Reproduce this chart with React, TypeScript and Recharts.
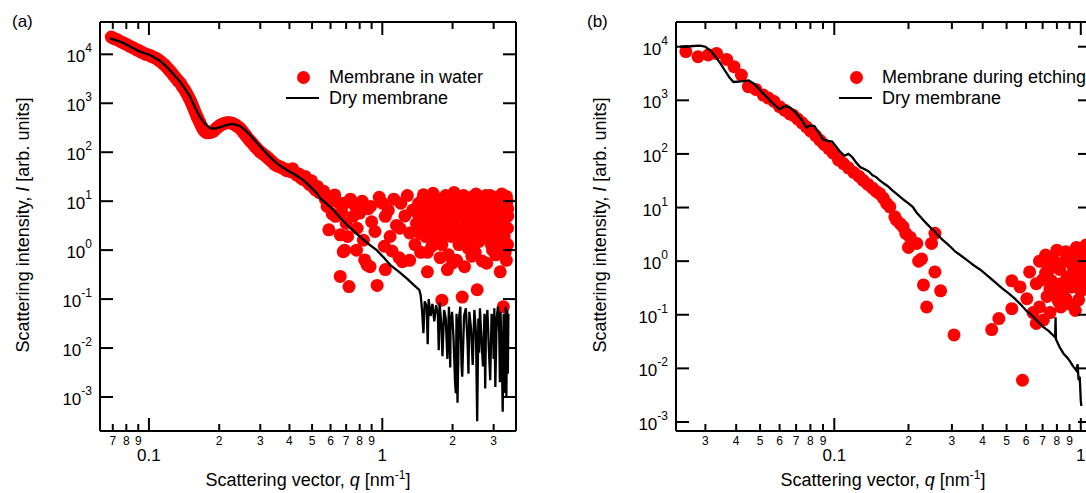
import { ComposedChart, XAxis, YAxis, Scatter, Line } from "recharts";

const FONT = "'Liberation Sans', Arial, sans-serif";

// panel (a): membrane in water, points along the curve (q in nm^-1, intensity)
const waterCurveA: [number, number][] = [
  [0.069, 22500], [0.071, 21000], [0.073, 20000], [0.075, 18500], [0.077, 17500],
  [0.079, 16500], [0.081, 15500], [0.083, 14500], [0.085, 13800], [0.087, 13000],
  [0.089, 12200], [0.091, 11800], [0.093, 11000], [0.095, 10500], [0.097, 10000],
  [0.099, 9800], [0.101, 9500], [0.103, 9000], [0.105, 8600], [0.107, 8300],
  [0.109, 7900], [0.111, 7400], [0.113, 6900], [0.115, 6400], [0.117, 6000],
  [0.119, 5500], [0.121, 5000], [0.123, 4600], [0.125, 4200], [0.127, 3800],
  [0.129, 3500], [0.131, 3200], [0.133, 2900], [0.135, 2700], [0.137, 2500],
  [0.139, 2200], [0.141, 2000], [0.143, 1800], [0.145, 1600], [0.147, 1400],
  [0.149, 1250], [0.151, 1100], [0.153, 950], [0.155, 820], [0.157, 700],
  [0.159, 600], [0.161, 520], [0.163, 460], [0.165, 410], [0.167, 360],
  [0.169, 320], [0.171, 290], [0.173, 270], [0.175, 260], [0.177, 250],
  [0.18, 250], [0.183, 255], [0.186, 260], [0.189, 270], [0.192, 290],
  [0.195, 310], [0.198, 330], [0.201, 350], [0.205, 370], [0.209, 385],
  [0.213, 395], [0.217, 400], [0.221, 400], [0.225, 395], [0.229, 385],
  [0.233, 370], [0.237, 350], [0.241, 330], [0.245, 310], [0.249, 285],
  [0.253, 260], [0.257, 235], [0.261, 215], [0.265, 195], [0.27, 175],
  [0.275, 160], [0.28, 145], [0.285, 130], [0.29, 120], [0.295, 110],
  [0.3, 100], [0.306, 95], [0.312, 88], [0.318, 82], [0.324, 76],
  [0.33, 70], [0.337, 64], [0.344, 58], [0.351, 54], [0.358, 52],
  [0.365, 50], [0.373, 48], [0.381, 45], [0.389, 42], [0.397, 44],
  [0.405, 40], [0.413, 46], [0.421, 38], [0.43, 34], [0.439, 36],
  [0.448, 30], [0.457, 28], [0.467, 32], [0.477, 25], [0.487, 22],
  [0.497, 26], [0.507, 19], [0.517, 17], [0.527, 20], [0.537, 15],
];

// panel (a): membrane in water, the noisy cloud at high q
const waterCloudA: [number, number][] = [
  [0.56, 16], [0.57, 11], [0.58, 7.8], [0.59, 2.6], [0.6, 12], [0.61, 5.5],
  [0.625, 13.4], [0.63, 4.9], [0.645, 9.5], [0.66, 2.05], [0.66, 0.29], [0.67, 6],
  [0.68, 0.93], [0.69, 9.1], [0.69, 1.0], [0.7, 3.5], [0.71, 1.9], [0.72, 0.18],
  [0.73, 11], [0.75, 4.9], [0.76, 8.4], [0.775, 1.0], [0.78, 2.8], [0.8, 5.7],
  [0.82, 10], [0.83, 1.6], [0.84, 0.63], [0.86, 0.5], [0.87, 7], [0.886, 0.46],
  [0.89, 7.8], [0.9, 3.8], [0.93, 2.4], [0.95, 0.19], [0.97, 12], [1.0, 9.1],
  [1.02, 1.2], [1.03, 4.9], [1.03, 0.4], [1.06, 6.5], [1.08, 1.9], [1.1, 0.96],
  [1.12, 11], [1.15, 3.2], [1.18, 0.7], [1.19, 2.8], [1.2, 9.1], [1.22, 0.58],
  [1.25, 5], [1.28, 13], [1.31, 2.25], [1.31, 0.62], [1.35, 6.6], [1.38, 1.3],
  [1.4, 3.5], [1.43, 9], [1.46, 0.9], [1.5, 13.5], [1.52, 5.5], [1.53, 7.8],
  [1.53, 1.9], [1.56, 0.9], [1.56, 0.36], [1.57, 4.1], [1.6, 2.8], [1.62, 10],
  [1.65, 14.5], [1.67, 1.4], [1.7, 6], [1.72, 3], [1.75, 11], [1.77, 0.7],
  [1.8, 7.8], [1.8, 0.095], [1.82, 2], [1.85, 3.5], [1.87, 13], [1.9, 0.4],
  [1.92, 0.8], [1.95, 10], [1.98, 1.9], [2.0, 5.5], [2.03, 15], [2.05, 3],
  [2.08, 0.62], [2.1, 8], [2.13, 1.3], [2.15, 10.7], [2.17, 1.6], [2.2, 4.9],
  [2.2, 0.11], [2.23, 13], [2.25, 0.46], [2.28, 2.4], [2.3, 7], [2.33, 1.1],
  [2.36, 11], [2.4, 4], [2.42, 0.75], [2.45, 7.8], [2.48, 2.6], [2.5, 0.9],
  [2.52, 14], [2.55, 0.155], [2.57, 5.5], [2.6, 1.5], [2.62, 10], [2.65, 3.5],
  [2.68, 0.6], [2.7, 10.7], [2.72, 6], [2.75, 2.2], [2.78, 13], [2.8, 1.9],
  [2.8, 0.54], [2.84, 4.5], [2.87, 9], [2.9, 6.6], [2.93, 1.3], [2.97, 1.0],
  [3.0, 12], [3.03, 3.8], [3.06, 0.8], [3.1, 3.0], [3.13, 7], [3.18, 9.1],
  [3.2, 0.36], [3.22, 2], [3.25, 14], [3.28, 5], [3.3, 0.07], [3.33, 1.9],
  [3.33, 12], [3.36, 0.9], [3.4, 4.9], [3.4, 0.62], [3.42, 10], [3.44, 2.8],
  [3.45, 7],
  [1.42, 5.5], [1.45, 2.2], [1.48, 10.5], [1.55, 3], [1.58, 12], [1.6, 6.5],
  [1.63, 1.2], [1.68, 8.5], [1.7, 2.2], [1.73, 4.8], [1.78, 9.5], [1.8, 1.3],
  [1.83, 5.5], [1.88, 2.6], [1.9, 7], [1.93, 4.2], [1.97, 12.5], [2.0, 0.55],
  [2.04, 8.5], [2.07, 2.1], [2.12, 5], [2.18, 7.5], [2.22, 1.9], [2.26, 9.5],
  [2.3, 3.5], [2.34, 5.8], [2.38, 1.6], [2.41, 12], [2.46, 4.5], [2.5, 9.5],
  [2.54, 3], [2.58, 7.5], [2.63, 2.2], [2.67, 12], [2.72, 4], [2.76, 8.5],
  [2.82, 11], [2.86, 2.6], [2.9, 13], [2.95, 4.2], [3.0, 7], [3.04, 1.8],
  [3.08, 10.5], [3.12, 4.8], [3.16, 1.2], [3.2, 6.2], [3.24, 3.3], [3.28, 9.5],
  [3.32, 5.5], [3.37, 7.5], [3.4, 12.5], [3.44, 1.3], [3.45, 5],
];

// panel (a): dry membrane
const dryA: [number, number][] = [
  [0.068, 21200], [0.072, 19500], [0.077, 17300], [0.081, 15400], [0.0857, 13300],
  [0.091, 11500], [0.096, 10500], [0.101, 9700], [0.106, 8500], [0.112, 7200],
  [0.119, 5600], [0.127, 4000], [0.136, 2760], [0.143, 1950], [0.15, 1365],
  [0.157, 850], [0.165, 533], [0.174, 380], [0.183, 309], [0.192, 305],
  [0.201, 323], [0.213, 355], [0.226, 378], [0.235, 365], [0.245, 344],
  [0.257, 290], [0.271, 226], [0.289, 160], [0.309, 111], [0.33, 80],
  [0.352, 60], [0.376, 48], [0.402, 40], [0.43, 33], [0.458, 27],
  [0.49, 20], [0.524, 14.6], [0.541, 11.5], [0.578, 8.8], [0.617, 6.6],
  [0.66, 4.6], [0.704, 3.3], [0.75, 2.5], [0.8, 1.9], [0.87, 1.35],
  [0.946, 1.0], [1.01, 0.72], [1.08, 0.5], [1.18, 0.36], [1.29, 0.25],
  [1.37, 0.19], [1.44, 0.155],
  [1.46, 0.12], [1.48, 0.06], [1.5, 0.02], [1.52, 0.09], [1.55, 0.07], [1.565, 0.012],
  [1.58, 0.1], [1.61, 0.045], [1.64, 0.08], [1.67, 0.035], [1.7, 0.075], [1.73, 0.05],
  [1.745, 0.009], [1.76, 0.085], [1.79, 0.03], [1.81, 0.0068], [1.84, 0.06], [1.87, 0.04],
  [1.9, 0.006], [1.93, 0.07], [1.955, 0.004], [1.96, 0.03], [1.99, 0.055], [2.02, 0.015],
  [2.05, 0.002], [2.065, 0.0012], [2.08, 0.05], [2.1, 0.00076], [2.13, 0.04], [2.16, 0.07],
  [2.185, 0.0045], [2.2, 0.0026], [2.24, 0.045], [2.28, 0.065], [2.32, 0.012], [2.34, 0.003],
  [2.36, 0.055], [2.4, 0.025], [2.44, 0.0045], [2.48, 0.06], [2.52, 0.02], [2.55, 0.00032],
  [2.58, 0.04], [2.6, 0.008], [2.62, 0.065], [2.66, 0.015], [2.7, 0.0042], [2.74, 0.05],
  [2.76, 0.0015], [2.78, 0.025], [2.82, 0.06], [2.86, 0.01], [2.9, 0.0022], [2.94, 0.05],
  [2.98, 0.03], [3.0, 0.006], [3.02, 0.065], [3.05, 0.0016], [3.09, 0.04], [3.13, 0.07],
  [3.17, 0.02], [3.19, 0.002], [3.21, 0.055], [3.25, 0.008], [3.28, 0.0005], [3.31, 0.05],
  [3.35, 0.03], [3.36, 0.0012], [3.38, 0.07], [3.4, 0.001], [3.43, 0.06], [3.45, 0.003],
  [3.47, 0.05],
];

// panel (b): membrane during etching
const etchB: [number, number][] = [
  [0.025, 8100], [0.028, 6500], [0.0308, 7000], [0.0333, 7500], [0.0366, 5800],
  [0.0392, 4240], [0.042, 2960], [0.0448, 1800], [0.048, 1600], [0.0515, 1250],
  [0.054, 1100], [0.057, 950], [0.06, 760], [0.063, 650], [0.066, 560],
  [0.068, 530], [0.071, 450], [0.074, 380], [0.077, 320], [0.08, 270],
  [0.084, 220], [0.0875, 180], [0.091, 150], [0.095, 125], [0.099, 103],
  [0.104, 77], [0.109, 66], [0.114, 55], [0.12, 45], [0.126, 38],
  [0.131, 32], [0.137, 27], [0.143, 23], [0.148, 20], [0.153, 18],
  [0.158, 15], [0.163, 12], [0.168, 10.3], [0.176, 6.7], [0.179, 5.8],
  [0.185, 5], [0.19, 4.4], [0.195, 3.3], [0.203, 2.8], [0.2, 1.8],
  [0.216, 2.14], [0.22, 1.0], [0.226, 1.1], [0.23, 0.36], [0.237, 0.14],
  [0.248, 2.14], [0.256, 3.3], [0.256, 0.63], [0.27, 0.28], [0.306, 0.042],
  [0.435, 0.053], [0.465, 0.085], [0.525, 0.13], [0.525, 0.43], [0.567, 0.33],
  [0.58, 0.006], [0.604, 0.2], [0.62, 0.63], [0.64, 0.11], [0.66, 0.38],
  [0.66, 0.069], [0.68, 0.14], [0.68, 1.0], [0.7, 1.0], [0.705, 0.08],
  [0.73, 0.22], [0.74, 0.68], [0.75, 0.11], [0.76, 0.43], [0.79, 0.25],
  [0.8, 1.6], [0.83, 0.14], [0.83, 0.38], [0.86, 1.0], [0.88, 0.51],
  [0.92, 0.33], [0.93, 0.78], [0.96, 1.8], [0.96, 0.58], [0.98, 0.19],
  [1.0, 0.28], [0.72, 1.3], [0.78, 0.9], [0.9, 1.3], [1.02, 1.2],
  [1.03, 0.5], [1.05, 2.0], [0.87, 0.2], [0.95, 0.12], [1.04, 0.9],
  [0.7, 0.45], [0.72, 0.6], [0.75, 0.3], [0.77, 1.1], [0.82, 0.7],
  [0.85, 0.28], [0.87, 1.5], [0.9, 0.45], [0.94, 1.1], [0.97, 0.4],
  [1.0, 1.0], [1.02, 0.65], [1.04, 0.35], [0.99, 1.4], [0.81, 0.18], [0.89, 0.16],
];

// panel (b): dry membrane
const dryB: [number, number][] = [
  [0.0237, 10000], [0.026, 10200], [0.0285, 10500], [0.03, 10000], [0.0315, 8500],
  [0.033, 6500], [0.0345, 4900], [0.036, 3600], [0.0375, 2700], [0.039, 2200],
  [0.042, 2250], [0.045, 2350], [0.0475, 2000], [0.05, 1550], [0.053, 1170],
  [0.056, 900], [0.06, 680], [0.063, 780], [0.066, 740], [0.07, 580],
  [0.074, 420], [0.077, 310], [0.08, 340], [0.083, 330], [0.087, 240],
  [0.09, 185], [0.094, 175], [0.098, 170], [0.102, 135], [0.106, 108],
  [0.11, 92], [0.114, 100], [0.118, 88], [0.123, 68], [0.128, 56],
  [0.133, 52], [0.138, 47], [0.143, 40], [0.148, 37], [0.153, 32],
  [0.159, 28], [0.165, 25], [0.172, 21], [0.179, 18], [0.186, 15.5],
  [0.193, 13.5], [0.2, 12], [0.208, 10.3], [0.216, 8], [0.223, 6.8],
  [0.23, 5.8], [0.238, 4.9], [0.246, 4.2], [0.255, 3.6], [0.264, 3.0],
  [0.275, 2.5], [0.286, 2.14], [0.298, 1.8], [0.31, 1.5], [0.324, 1.3],
  [0.34, 1.1], [0.355, 0.95], [0.37, 0.82], [0.39, 0.7], [0.41, 0.58],
  [0.432, 0.47], [0.456, 0.38], [0.48, 0.31], [0.51, 0.25], [0.54, 0.2],
  [0.567, 0.16], [0.6, 0.12], [0.63, 0.1], [0.66, 0.08], [0.705, 0.059],
  [0.74, 0.05], [0.77, 0.042], [0.787, 0.038], [0.79, 0.09], [0.793, 0.035],
  [0.82, 0.025], [0.85, 0.019], [0.88, 0.016], [0.9, 0.014], [0.93, 0.011],
  [0.96, 0.0091], [0.97, 0.012], [0.98, 0.006], [0.99, 0.007], [1.0, 0.0025],
  [1.005, 0.002],
];

const yTicks = [1e-3, 1e-2, 1e-1, 1, 10, 100, 1000, 1e4];
const xTicksA = [0.07, 0.08, 0.09, 0.1, 0.2, 0.3, 0.4, 0.5, 0.6, 0.7, 0.8, 0.9, 1, 2, 3];
const xTicksB = [0.03, 0.04, 0.05, 0.06, 0.07, 0.08, 0.09, 0.1, 0.2, 0.3, 0.4, 0.5, 0.6, 0.7, 0.8, 0.9, 1];

const toPts = (arr: [number, number][]) => arr.map(([q, I]) => ({ q, I }));

const isDecade = (v: number) => {
  const l = Math.log10(v);
  return Math.abs(l - Math.round(l)) < 1e-6;
};
const digit = (v: number) => Math.round(v / Math.pow(10, Math.floor(Math.log10(v) + 1e-9)));

function BottomTick(props: any) {
  const { x, y, payload } = props;
  const v = payload.value as number;
  const major = isDecade(v);
  return (
    <g>
      <line x1={x} x2={x} y1={y} y2={y - (major ? 13 : 7)} stroke="#000" strokeWidth={2} />
      {major ? (
        <text x={x} y={y + 30} textAnchor="middle" fontSize={17} fontFamily={FONT} fill="#000">
          {String(v)}
        </text>
      ) : (
        <text x={x} y={y + 14} textAnchor="middle" fontSize={12} fontFamily={FONT} fill="#000">
          {digit(v)}
        </text>
      )}
    </g>
  );
}

function TopTick(props: any) {
  const { x, y, payload } = props;
  const major = isDecade(payload.value);
  return <line x1={x} x2={x} y1={y} y2={y + (major ? 13 : 7)} stroke="#000" strokeWidth={2} />;
}

function LeftTick(props: any) {
  const { x, y, payload } = props;
  const exp = Math.round(Math.log10(payload.value));
  return (
    <g>
      <line x1={x} x2={x + 13} y1={y} y2={y} stroke="#000" strokeWidth={2} />
      <text x={x - 8} y={y} textAnchor="end" fontFamily={FONT} fill="#000">
        <tspan fontSize={17} dy={8}>10</tspan>
        <tspan fontSize={12} dy={-10}>{String(exp)}</tspan>
      </text>
    </g>
  );
}

function RightTick(props: any) {
  const { x, y } = props;
  return <line x1={x} x2={x - 13} y1={y} y2={y} stroke="#000" strokeWidth={2} />;
}

const dotShape = (p: any) => <circle cx={p.cx} cy={p.cy} r={6.5} fill="#ff0000" />;

type Margin = { top: number; right: number; bottom: number; left: number };

// base chart: frame, ticks and the red points
function Frame({ width, plot, xDomain, yDomain, xTicks, points }: {
  width: number; plot: Margin; xDomain: [number, number]; yDomain: [number, number];
  xTicks: number[]; points: { q: number; I: number }[];
}) {
  const axisLine = { stroke: "#000", strokeWidth: 2 };
  // axes take 1px each, so the margins shrink by one
  const margin = { top: plot.top - 1, right: plot.right - 1, bottom: plot.bottom - 1, left: plot.left - 1 };
  return (
    <ComposedChart width={width} height={493} margin={margin}>
      <XAxis xAxisId="b" type="number" dataKey="q" scale="log" domain={xDomain} allowDataOverflow
        ticks={xTicks} interval={0} height={1} tickSize={0} tickMargin={0} tickLine={false}
        axisLine={axisLine} tick={<BottomTick />} />
      <XAxis xAxisId="t" orientation="top" type="number" dataKey="q" scale="log" domain={xDomain} allowDataOverflow
        ticks={xTicks} interval={0} height={1} tickSize={0} tickMargin={0} tickLine={false}
        axisLine={axisLine} tick={<TopTick />} />
      <YAxis yAxisId="l" type="number" dataKey="I" scale="log" domain={yDomain} allowDataOverflow
        ticks={yTicks} interval={0} width={1} tickSize={0} tickMargin={0} tickLine={false}
        axisLine={axisLine} tick={<LeftTick />} />
      <YAxis yAxisId="r" orientation="right" type="number" dataKey="I" scale="log" domain={yDomain} allowDataOverflow
        ticks={yTicks} interval={0} width={1} tickSize={0} tickMargin={0} tickLine={false}
        axisLine={axisLine} tick={<RightTick />} />
      <Scatter data={points} xAxisId="b" yAxisId="l" dataKey="I" shape={dotShape} isAnimationActive={false} />
    </ComposedChart>
  );
}

// overlay chart: the dry membrane line, drawn above the points
function DryLine({ width, plot, xDomain, yDomain, dry }: {
  width: number; plot: Margin; xDomain: [number, number]; yDomain: [number, number];
  dry: { q: number; I: number }[];
}) {
  return (
    <ComposedChart width={width} height={493} margin={plot}>
      <XAxis type="number" dataKey="q" scale="log" domain={xDomain} allowDataOverflow hide />
      <YAxis type="number" dataKey="I" scale="log" domain={yDomain} allowDataOverflow hide />
      <Line data={dry} dataKey="I" type="linear" stroke="#000" strokeWidth={2.3}
        dot={false} activeDot={false} isAnimationActive={false} />
    </ComposedChart>
  );
}

const abs = (left: number, top: number, extra: any = {}) => ({ position: "absolute" as const, left, top, ...extra });

function Legend({ x, y, label }: { x: number; y: number; label: string }) {
  return (
    <>
      <div style={abs(x - 6.5, y - 6.5, { width: 13, height: 13, borderRadius: "50%", background: "#ff0000" })} />
      <div style={abs(x + 26, y - 10, { lineHeight: "20px", fontSize: 18, whiteSpace: "nowrap" })}>{label}</div>
      <div style={abs(x - 17, y + 19.7, { width: 33, height: 2, background: "#000" })} />
      <div style={abs(x + 26, y + 10.7, { lineHeight: "20px", fontSize: 18, whiteSpace: "nowrap" })}>Dry membrane</div>
    </>
  );
}

function YTitle({ cx }: { cx: number }) {
  return (
    <div style={abs(cx, 225, { transform: "translate(-50%, -50%) rotate(-90deg)", fontSize: 18, whiteSpace: "nowrap", lineHeight: "20px" })}>
      Scattering intensity, <i>I</i> [arb. units]
    </div>
  );
}

function XTitle({ cx }: { cx: number }) {
  return (
    <div style={abs(cx, 470, { transform: "translateX(-50%)", fontSize: 18, whiteSpace: "nowrap", lineHeight: "20px" })}>
      Scattering vector, <i>q</i> [nm<sup style={{ fontSize: 12, lineHeight: 0 }}>-1</sup>]
    </div>
  );
}

const plotA: Margin = { top: 22, right: 14, bottom: 62, left: 100 };
const plotB: Margin = { top: 22, right: 9, bottom: 62, left: 116 };
const xDomA: [number, number] = [0.0617, 3.74];
const yDomA: [number, number] = [2.02e-4, 45700];
const xDomB: [number, number] = [0.0228, 1.1];
const yDomB: [number, number] = [6.79e-4, 28900];

export default function App() {
  const waterA = [...toPts(waterCurveA), ...toPts(waterCloudA)];
  return (
    <div style={{ position: "absolute", left: 0, top: 0, width: 1086, height: 493, overflow: "hidden", background: "#fff", fontFamily: FONT, color: "#000" }}>
      <div style={abs(0, 0)}>
        <Frame width={530} plot={plotA} xDomain={xDomA} yDomain={yDomA} xTicks={xTicksA} points={waterA} />
      </div>
      <div style={abs(0, 0)}>
        <DryLine width={530} plot={plotA} xDomain={xDomA} yDomain={yDomA} dry={toPts(dryA)} />
      </div>
      <div style={abs(560, 0)}>
        <Frame width={540} plot={plotB} xDomain={xDomB} yDomain={yDomB} xTicks={xTicksB} points={toPts(etchB)} />
      </div>
      <div style={abs(560, 0)}>
        <DryLine width={540} plot={plotB} xDomain={xDomB} yDomain={yDomB} dry={toPts(dryB)} />
      </div>
      <div style={abs(12, 12, { fontSize: 17, lineHeight: "20px" })}>(a)</div>
      <div style={abs(587, 12, { fontSize: 17, lineHeight: "20px" })}>(b)</div>
      <Legend x={303} y={77} label="Membrane in water" />
      <Legend x={856} y={77} label="Membrane during etching" />
      <YTitle cx={23} />
      <YTitle cx={600} />
      <XTitle cx={308} />
      <XTitle cx={883} />
    </div>
  );
}
